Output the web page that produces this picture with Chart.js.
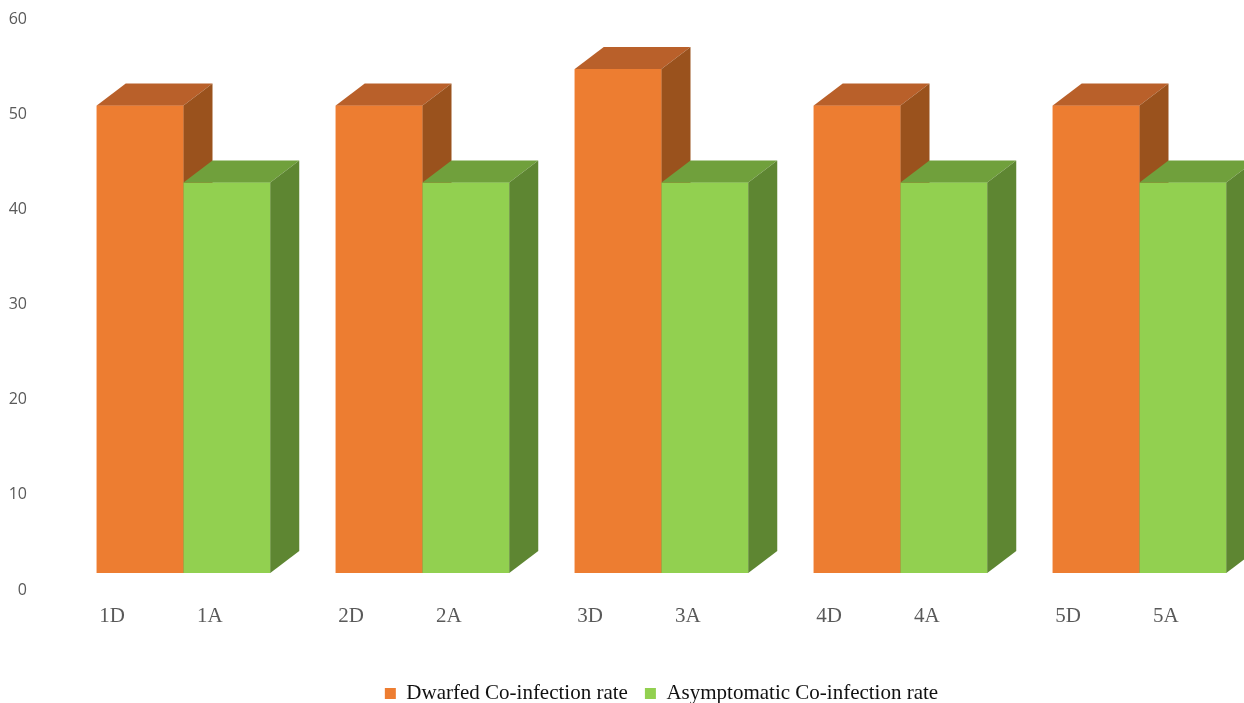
<!DOCTYPE html>
<html>
<head>
<meta charset="utf-8">
<script src="https://cdn.jsdelivr.net/npm/chart.js@4/dist/chart.umd.min.js"></script>
<style>
  html, body { margin: 0; padding: 0; overflow: hidden; background: #fff; }
  #wrap { width: 1259px; height: 714px; }
</style>
</head>
<body>
<div id="wrap"><canvas id="myChart"></canvas></div>
<script>
// Data for the 3D column chart
const groups = ['1', '2', '3', '4', '5'];
const dwarfedLabels = ['1D', '2D', '3D', '4D', '5D'];
const asymptomaticLabels = ['1A', '2A', '3A', '4A', '5A'];
const dwarfedRate = [51, 51, 55, 51, 51];
const asymptomaticRate = [42.6, 42.6, 42.6, 42.6, 42.6];

// shading for the top and right faces of each series
const faces = [
    { top: '#B9602A', side: '#9A521D' },
    { top: '#70A03C', side: '#5E8632' }
];
const DEPTH_X = 29;
const DEPTH_Y = 22;

const data = {
    labels: groups,
    datasets: [
        {
            label: 'Dwarfed Co-infection rate',
            backgroundColor: '#ED7D31',
            data: dwarfedRate,
            yAxisID: 'y1',
            tickLabels: dwarfedLabels,
            labelShift: -28
        },
        {
            label: 'Asymptomatic Co-infection rate',
            backgroundColor: '#92D050',
            data: asymptomaticRate,
            yAxisID: 'y1',
            tickLabels: asymptomaticLabels,
            labelShift: -17
        }
    ]
};

// draws the box faces group by group so the green front covers the orange side
const bars3d = {
    id: 'bars3d',
    afterDatasetsDraw(chart) {
        const ctx = chart.ctx;
        const metas = chart.data.datasets.map((d, i) => chart.getDatasetMeta(i));
        ctx.save();
        for (let i = 0; i < groups.length; i++) {
            metas.forEach((meta, j) => {
                const bar = meta.data[i];
                const p = bar.getProps(['x', 'y', 'base', 'width'], true);
                const l = p.x - p.width / 2;
                const r = p.x + p.width / 2;
                bar.draw(ctx);

                ctx.fillStyle = faces[j].top;
                ctx.beginPath();
                ctx.moveTo(l, p.y);
                ctx.lineTo(l + DEPTH_X, p.y - DEPTH_Y);
                ctx.lineTo(r + DEPTH_X, p.y - DEPTH_Y);
                ctx.lineTo(r, p.y);
                ctx.closePath();
                ctx.fill();

                ctx.fillStyle = faces[j].side;
                ctx.beginPath();
                ctx.moveTo(r, p.y);
                ctx.lineTo(r + DEPTH_X, p.y - DEPTH_Y);
                ctx.lineTo(r + DEPTH_X, p.base - DEPTH_Y);
                ctx.lineTo(r, p.base);
                ctx.closePath();
                ctx.fill();
            });
        }

        // category names under every bar
        ctx.font = '21px "Liberation Serif", "Times New Roman", serif';
        ctx.fillStyle = '#595959';
        ctx.textAlign = 'center';
        ctx.textBaseline = 'alphabetic';
        metas.forEach((meta, j) => {
            const ds = chart.data.datasets[j];
            meta.data.forEach((bar, i) => {
                ctx.fillText(ds.tickLabels[i], bar.x + ds.labelShift, chart.chartArea.bottom + 32);
            });
        });
        ctx.restore();
    }
};

const config = {
    type: 'bar',
    data: data,
    options: {
        responsive: true,
        maintainAspectRatio: false,
        animation: false,
        layout: {
            padding: { top: 19, left: 0, right: 0, bottom: 0 }
        },
        datasets: {
            bar: {
                categoryPercentage: 0.726,
                barPercentage: 1,
                borderWidth: 0,
                clip: false
            }
        },
        scales: {
            x: {
                grid: { display: false },
                border: { display: false },
                ticks: { display: false },
                afterFit: function(axis) {
                    axis.height = 76;
                }
            },
            y: {
                min: 0,
                max: 60,
                grid: { display: false, drawTicks: false },
                border: { display: false },
                ticks: {
                    stepSize: 10,
                    padding: 37,
                    color: '#595959',
                    font: { family: '"Open Sans", sans-serif', size: 16 }
                },
                afterFit: function(axis) {
                    axis.width = 64;
                    axis.paddingTop = 0;
                    axis.paddingBottom = 0;
                }
            },
            // floor of the bars sits a little above the wall's zero line
            y1: {
                display: false,
                min: -1.85,
                max: 60.45
            }
        },
        plugins: {
            legend: {
                position: 'bottom',
                fullSize: false,
                labels: {
                    boxWidth: 11,
                    boxHeight: 11,
                    padding: 17,
                    color: '#111',
                    font: { family: '"Liberation Serif", "Times New Roman", serif', size: 21 }
                }
            },
            tooltip: { enabled: false }
        }
    },
    plugins: [bars3d]
};

var myChart = new Chart(document.getElementById('myChart'), config);
</script>
</body>
</html>
